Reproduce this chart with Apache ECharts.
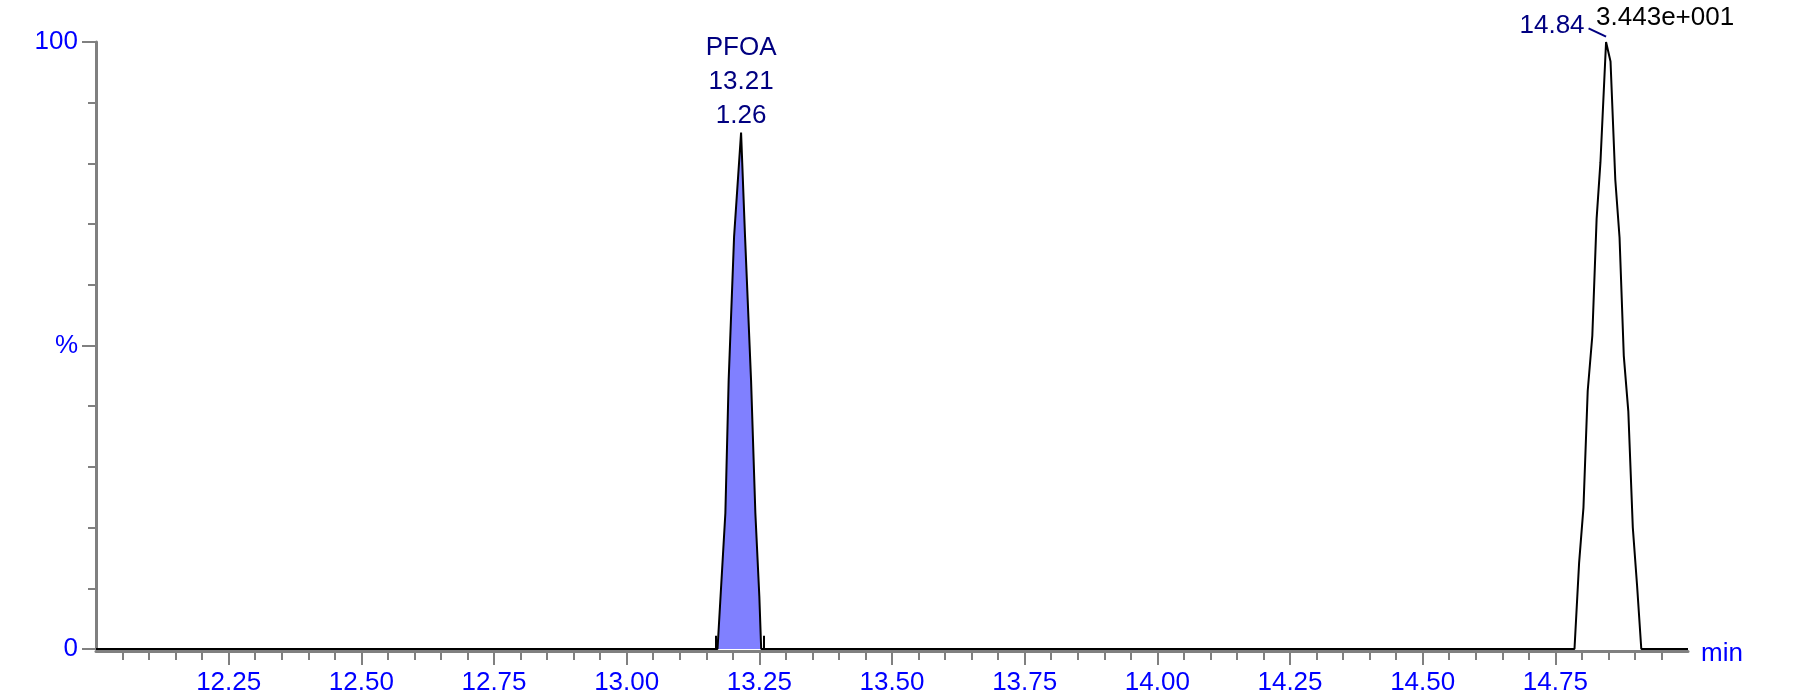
<!DOCTYPE html>
<html>
<head>
<meta charset="utf-8">
<title>PFOA chromatogram</title>
<script src="https://cdn.jsdelivr.net/npm/echarts@6/dist/echarts.min.js"></script>
<style>
  html, body { margin: 0; padding: 0; background: #fff; }
  #chart { width: 1794px; height: 700px; }
</style>
</head>
<body>
<div id="chart"></div>
<script>
// retention time axis (min)
const xTickLabels = ['12.25', '12.50', '12.75', '13.00', '13.25', '13.50', '13.75', '14.00', '14.25', '14.50', '14.75']
const yTickLabels = { 0: '0', 50: '%', 100: '100' }
const xAxisName = 'min'

// PFOA peak (filled)
const peak1Time = [13.1712, 13.186, 13.1922, 13.2024, 13.2156, 13.2231, 13.2344, 13.2425, 13.2500, 13.2535]
const peak1Value = [0, 22.4, 44.3, 67.9, 85.1, 67.9, 44.3, 22.4, 8.7, 0]

// second peak at 14.84
const peak2Time = [14.7861, 14.7948, 14.803, 14.811, 14.8197, 14.8278, 14.835, 14.8456, 14.854, 14.863, 14.871, 14.879, 14.8875, 14.896, 14.904, 14.912]
const peak2Value = [0, 14.2, 23.3, 42.5, 51.6, 70.9, 80.2, 100, 96.8, 77.3, 67.8, 48.3, 39.2, 20.0, 10.5, 0]

// integration start / end marks of PFOA
const integrationMarks = [13.1672, 13.2581]
const markHeight = 2.2

const pfoaLabel = { apex: [13.2156, 85.1], lines: ['PFOA', '13.21', '1.26'] }
const peak2Label = { apex: [14.8456, 100], rt: '14.84', height: '3.443e+001' }

const FONT = '"Liberation Sans", Arial, sans-serif'
const AXIS_GREY = '#808080'

const majorTicks = xTickLabels.map(s => parseFloat(s))
let minorTicks = []
for (let i = 1; i < 60; i++) minorTicks.push(+(12 + i * 0.05).toFixed(2))

const zip = (a, b) => a.map((t, i) => [t, b[i]])
const peak1Data = zip(peak1Time, peak1Value)
const traceData = [[12.0, 0], ...peak1Data, ...zip(peak2Time, peak2Value), [15.0, 0]]

const option = {
  animation: false,
  grid: { left: 96, right: 106, top: 42, bottom: 51 },
  xAxis: [
    {
      type: 'value',
      min: 12,
      max: 15,
      position: 'bottom',
      offset: 2,
      axisLine: { show: true, onZero: false, lineStyle: { color: AXIS_GREY, width: 3 } },
      axisTick: { show: true, customValues: majorTicks, length: 14, lineStyle: { color: AXIS_GREY, width: 2 } },
      axisLabel: {
        customValues: majorTicks,
        formatter: v => v.toFixed(2),
        color: '#0000ff',
        fontSize: 26,
        fontFamily: FONT,
        margin: 19,
      },
      splitLine: { show: false },
    },
    {
      type: 'value',
      min: 12,
      max: 15,
      position: 'bottom',
      offset: 2,
      axisLine: { show: false, onZero: false },
      axisTick: { show: true, customValues: minorTicks, length: 9, lineStyle: { color: AXIS_GREY, width: 2 } },
      axisLabel: { show: false },
      splitLine: { show: false },
    },
  ],
  yAxis: {
    type: 'value',
    min: 0,
    max: 100,
    interval: 50,
    axisLine: { show: true, onZero: false, lineStyle: { color: AXIS_GREY, width: 3 } },
    axisTick: { show: true, length: 14, lineStyle: { color: AXIS_GREY, width: 2 } },
    minorTick: { show: true, splitNumber: 5, length: 8, lineStyle: { color: AXIS_GREY, width: 2 } },
    axisLabel: {
      formatter: v => yTickLabels[v] || '',
      color: '#0000ff',
      fontSize: 26,
      fontFamily: FONT,
      margin: 18,
    },
    splitLine: { show: false },
    minorSplitLine: { show: false },
  },
  series: [
    {
      type: 'line',
      name: 'PFOA area',
      data: peak1Data,
      symbol: 'none',
      lineStyle: { width: 0 },
      areaStyle: { color: '#8080ff', opacity: 1 },
      z: 2,
      silent: true,
    },
    {
      type: 'line',
      name: 'trace',
      data: traceData,
      symbol: 'none',
      lineStyle: { color: '#000', width: 2 },
      z: 3,
      silent: true,
      markLine: {
        silent: true,
        symbol: ['none', 'none'],
        label: { show: false },
        lineStyle: { color: '#000', width: 2, type: 'solid' },
        data: integrationMarks.map(t => [{ coord: [t, 0] }, { coord: [t, markHeight] }]),
      },
    },
  ],
}

const chart = echarts.init(document.getElementById('chart'), null, { renderer: 'canvas' })
chart.setOption(option)

// peak annotations, placed from the apex positions
const p1 = chart.convertToPixel({ gridIndex: 0 }, pfoaLabel.apex)
const p2 = chart.convertToPixel({ gridIndex: 0 }, peak2Label.apex)
const pEnd = chart.convertToPixel({ gridIndex: 0 }, [15, 0])
const txt = (text, x, y, fill, align) => ({
  type: 'text',
  x: x,
  y: y,
  style: {
    text: text,
    fill: fill,
    font: '26px ' + FONT,
    textAlign: align, align: align,
    textVerticalAlign: 'middle', verticalAlign: 'middle',
  },
  silent: true,
})
const graphics = pfoaLabel.lines.map((s, i) => txt(s, p1[0], p1[1] - 84.5 + i * 34, '#000080', 'center'))
graphics.push(txt(peak2Label.rt, p2[0] - 21.5, p2[1] - 16.5, '#000080', 'right'))
graphics.push({
  type: 'line',
  shape: { x1: p2[0] - 17.5, y1: p2[1] - 13.7, x2: p2[0], y2: p2[1] - 5.3 },
  style: { stroke: '#000080', lineWidth: 2 },
  silent: true,
})
graphics.push(txt(peak2Label.height, p2[0] - 10, p2[1] - 24, '#000', 'left'))
// axis unit
graphics.push(txt(xAxisName, pEnd[0] + 13, pEnd[1] + 5, '#0000ff', 'left'))
chart.setOption({ graphic: graphics })
</script>
</body>
</html>
